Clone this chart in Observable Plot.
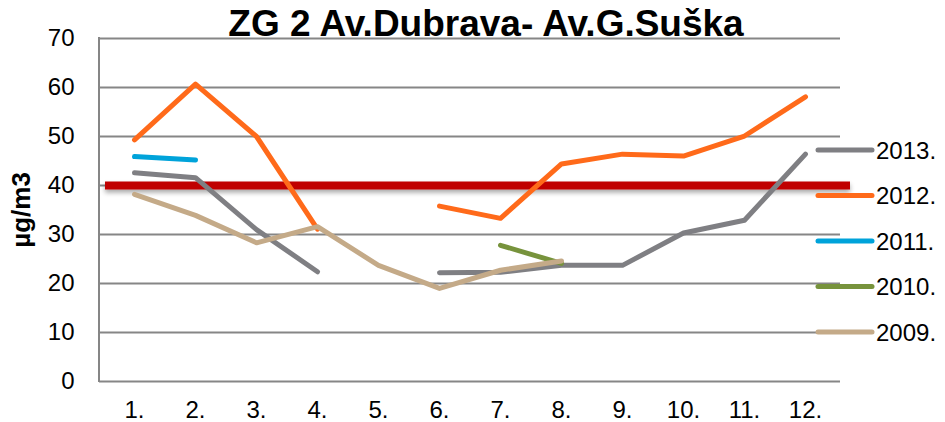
<!DOCTYPE html>
<html>
<head>
<meta charset="utf-8">
<script src="https://cdn.jsdelivr.net/npm/d3@7"></script>
<script src="https://cdn.jsdelivr.net/npm/@observablehq/plot@0.6"></script>
<style>
  html, body { margin: 0; padding: 0; background: #fff; }
  #chart svg { display: block; }
</style>
</head>
<body>
<div id="chart"></div>
<script>
const titleText = "ZG 2 Av.Dubrava- Av.G.Suška";
const yLabel = "µg/m3";
const months = ["1.", "2.", "3.", "4.", "5.", "6.", "7.", "8.", "9.", "10.", "11.", "12."];
const yTicks = [0, 10, 20, 30, 40, 50, 60, 70];
const limitValue = 40;

const seriesNames = ["2013.", "2012.", "2011.", "2010.", "2009."];
const seriesColors = ["#7f7f83", "#ff6a1a", "#00a3da", "#77933c", "#c4aa88"];

const s2013 = [42.6, 41.6, 31.0, 22.4, null, 22.2, 22.3, 23.7, 23.7, 30.3, 32.9, 46.4];
const s2012 = [49.3, 60.7, 50.0, 31.1, null, 35.8, 33.3, 44.4, 46.4, 46.0, 50.1, 58.1];
const s2011 = [45.9, 45.2, null, null, null, null, null, null, null, null, null, null];
const s2010 = [null, null, null, null, null, null, 27.8, 24.1, null, null, null, null];
const s2009 = [38.2, 33.9, 28.3, 31.6, 23.7, 19.0, 22.7, 24.6, null, null, null, null];

const seriesValues = [s2013, s2012, s2011, s2010, s2009];

const toRows = (vals) => months.map((m, i) => ({month: m, value: vals[i]}));

const lineMarks = seriesValues.map((vals, k) =>
  Plot.line(toRows(vals), {
    x: "month", y: "value",
    stroke: seriesColors[k], strokeWidth: 5,
    strokeLinecap: "round", strokeLinejoin: "round"
  })
);

const FONT = "'Liberation Sans', Arial, sans-serif";

const plot = Plot.plot({
  width: 945,
  height: 422,
  marginLeft: 99,
  marginRight: 105,
  marginTop: 38,
  marginBottom: 41,
  style: {fontFamily: FONT, fontSize: "24px", color: "#000", background: "#fff"},
  x: {type: "point", domain: months, padding: 0.5, label: null, tickSize: 0, tickPadding: 19},
  y: {domain: [0, 70], ticks: yTicks, label: null, tickSize: 0, tickPadding: 25},
  marks: [
    Plot.ruleY(yTicks, {stroke: "#868686", strokeWidth: 2}),
    Plot.ruleY([limitValue], {stroke: "#c00000", strokeWidth: 8, insetLeft: 6, insetRight: -10}),
    ...lineMarks
  ]
});

document.getElementById("chart").appendChild(plot);
const svg = d3.select(plot);

svg.selectAll("text")
  .style("font-family", FONT)
  .style("font-size", "24px")
  .attr("fill", "#000");

// shadow under limit line
const defs = svg.insert("defs", ":first-child");
const f = defs.append("filter").attr("id", "shadow")
  .attr("filterUnits", "userSpaceOnUse")
  .attr("x", 0).attr("y", 0).attr("width", 945).attr("height", 422);
f.append("feGaussianBlur").attr("in", "SourceAlpha").attr("stdDeviation", 2.5).attr("result", "b");
f.append("feOffset").attr("in", "b").attr("dy", 3).attr("result", "o");
f.append("feComponentTransfer").attr("in", "o").attr("result", "s")
  .append("feFuncA").attr("type", "linear").attr("slope", 0.35);
const m = f.append("feMerge");
m.append("feMergeNode").attr("in", "s");
m.append("feMergeNode").attr("in", "SourceGraphic");
svg.selectAll("g").filter(function() {
  return (this.getAttribute("stroke") || "").toLowerCase() === "#c00000";
}).attr("filter", "url(#shadow)");

// left axis line
const ys = plot.scale("y");
svg.append("line")
  .attr("x1", 99).attr("x2", 99)
  .attr("y1", ys.range[0] + 1).attr("y2", ys.range[1] - 1)
  .attr("stroke", "#868686").attr("stroke-width", 2);

// title
svg.append("text")
  .attr("x", 486).attr("y", 36)
  .attr("text-anchor", "middle")
  .style("font-family", FONT)
  .style("font-size", "37px").style("font-weight", "bold")
  .attr("fill", "#000")
  .text(titleText);

// y label
svg.append("text")
  .attr("transform", "translate(30,210) rotate(-90)")
  .attr("text-anchor", "middle")
  .style("font-family", FONT)
  .style("font-size", "26px").style("font-weight", "bold")
  .attr("fill", "#000")
  .text(yLabel);

// legend
const legendY0 = 150, legendStep = 45.5;
const lg = svg.append("g").attr("text-anchor", "start");
seriesNames.forEach((name, k) => {
  const y = legendY0 + k * legendStep;
  lg.append("line").attr("x1", 818).attr("x2", 872).attr("y1", y).attr("y2", y)
    .attr("stroke", seriesColors[k]).attr("stroke-width", 5).attr("stroke-linecap", "round");
  lg.append("text").attr("x", 876).attr("y", y + 8.5)
    .attr("text-anchor", "start")
    .style("font-family", FONT)
    .style("font-size", "24px").attr("fill", "#000")
    .text(name);
});
</script>
</body>
</html>
